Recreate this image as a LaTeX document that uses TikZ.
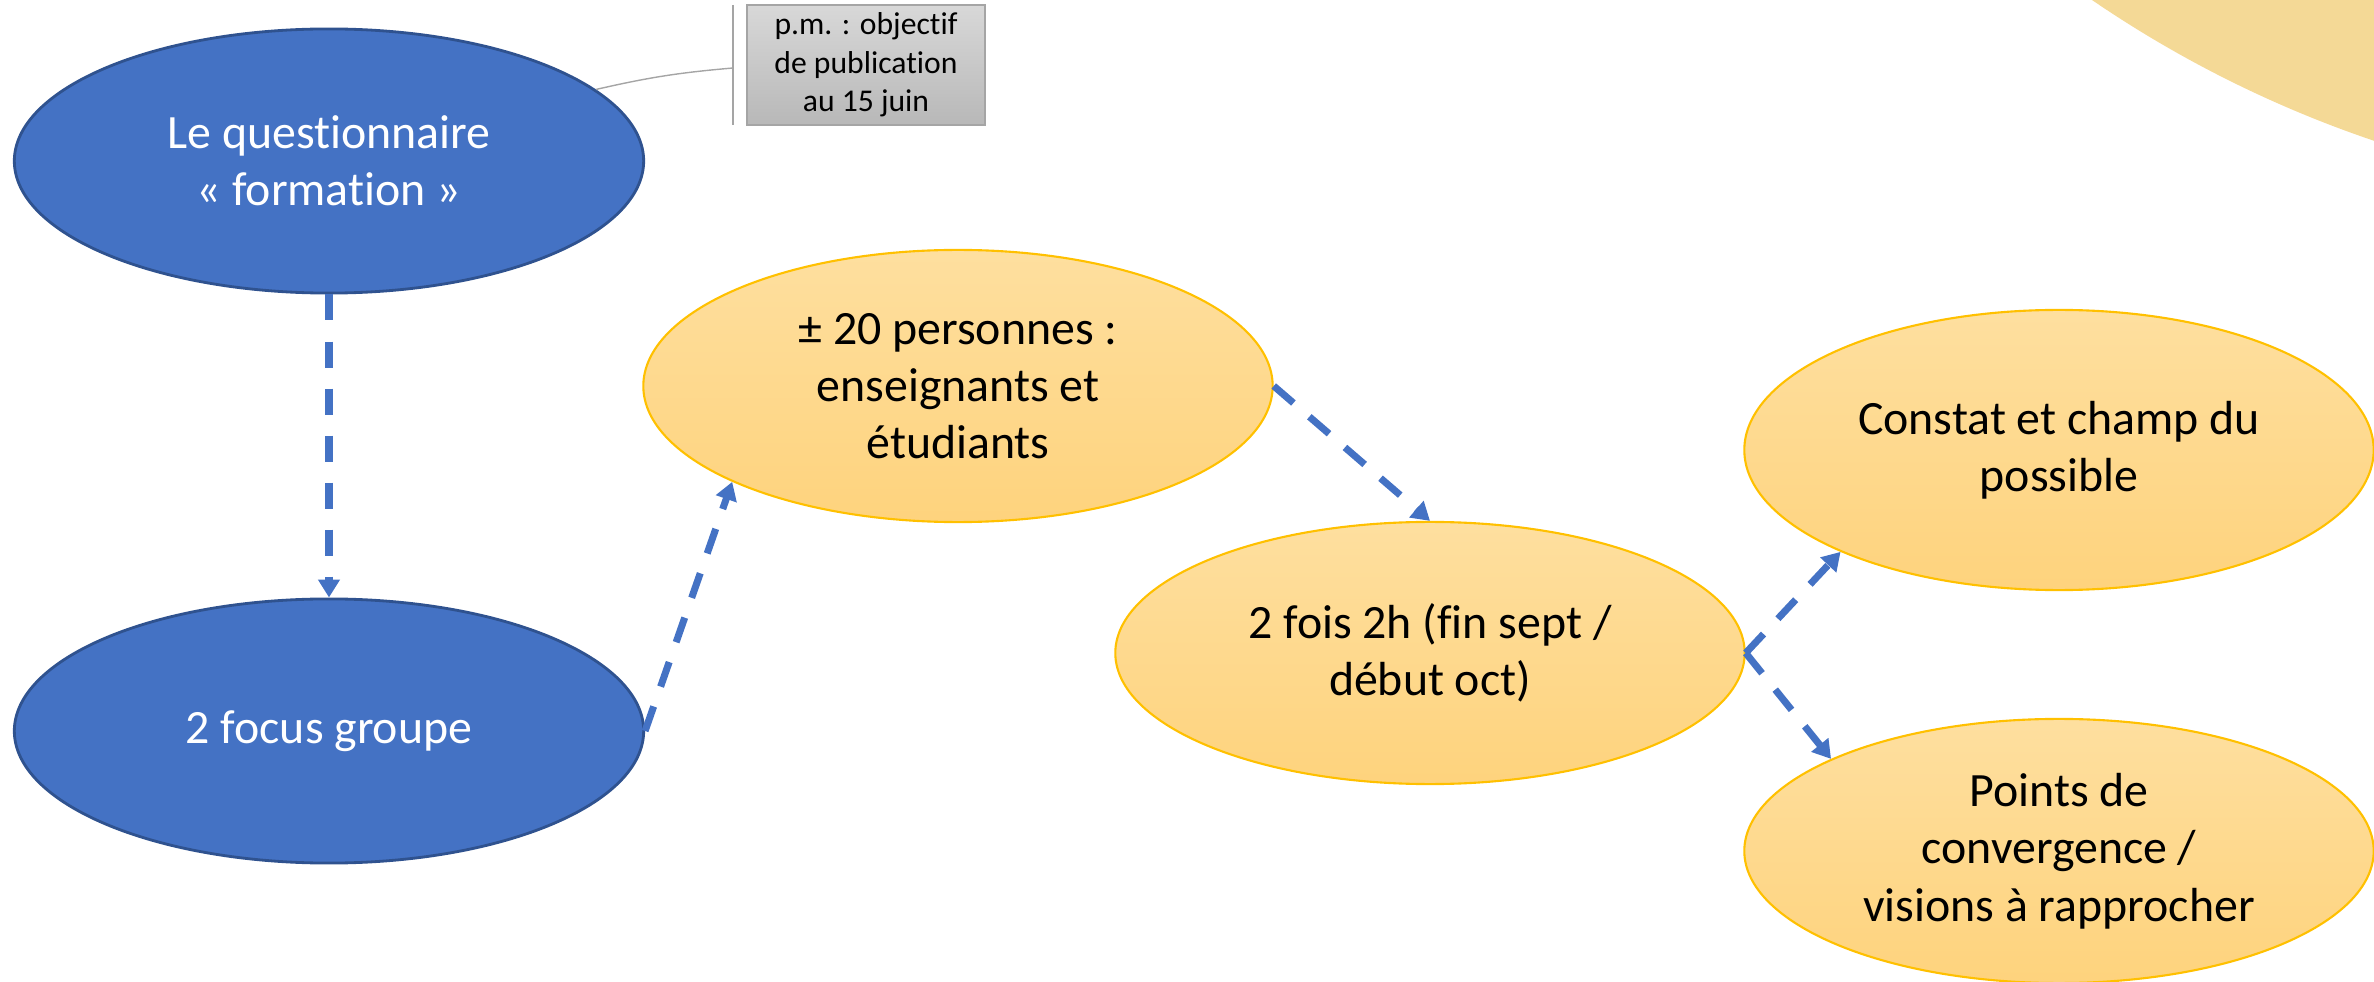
\documentclass[tikz,border=0pt]{standalone}
\usepackage{fontspec}
\setmainfont{Carlito}[Ligatures=NoCommon]
\usepackage{tikz}
\usetikzlibrary{shapes.geometric,arrows.meta}
\definecolor{bleu}{HTML}{4472C4}
\definecolor{bleuBord}{HTML}{2F528F}
\definecolor{orHaut}{HTML}{FEDF9F}
\definecolor{orBas}{HTML}{FED37D}
\definecolor{orBord}{HTML}{FFC000}
\definecolor{grisHaut}{HTML}{D8D8D8}
\definecolor{grisBas}{HTML}{B8B8B8}
\definecolor{grisBord}{HTML}{A5A5A5}
\definecolor{sable}{HTML}{F4D996}
\tikzstyle{bulle}=[ellipse, inner sep=-1cm, minimum width=6.29cm, minimum height=2.64cm, align=center, font=\fontsize{13.6}{16.3}\selectfont]
\tikzstyle{bulleBleue}=[bulle, fill=bleu, draw=bleuBord, line width=0.8pt, text=white]
\tikzstyle{bulleJaune}=[bulle, top color=orHaut, bottom color=orBas, draw=orBord, line width=0.6pt, text=black]
\tikzstyle{pmNote}=[rectangle, top color=grisHaut, bottom color=grisBas, draw=grisBord, line width=0.5pt, align=center, font=\fontsize{9}{10.9}\selectfont, minimum width=2.38cm, minimum height=1.2cm, inner sep=0]
\tikzstyle{fleche}=[draw=bleu, line width=0.07cm, dash pattern=on 0.26cm off 0.21cm, -{Triangle[width=0.21cm, length=0.18cm]}]
\tikzstyle{trait}=[draw=grisBord, line width=0.4pt]

\begin{document}
\begin{tikzpicture}[x=0.01cm, y=-0.01cm]
	\useasboundingbox (0,0) rectangle (2374,982);
	\begin{scope}
		\clip (0,0) rectangle (2374,982);
		\fill[sable] (2746,-959) circle[radius=11.6cm];
	\end{scope}
	\node[bulleBleue] (quest) at (329,161) {Le questionnaire\\« formation »};
	\node[bulleBleue] (focus) at (329,731) {2 focus groupe};
	\node[bulleJaune, minimum height=2.72cm] (pers) at (958,386) {± 20 personnes :\\enseignants et\\étudiants};
	\node[bulleJaune, minimum height=2.62cm] (fois) at (1430,653) {2 fois 2h (fin sept /\\début oct)};
	\node[bulleJaune, minimum height=2.8cm] (constat) at (2059,450) {Constat et champ du\\possible};
	\node[bulleJaune] (points) at (2059,851) {Points de\\convergence /\\visions à rapprocher};
	\coordinate (pmPied) at (733,68);
	\coordinate (pmHaut) at (733,5);
	\coordinate (pmBas) at (733,125);
	\node[pmNote] (pm) at (866,65) {p.m. : objectif\\de publication\\au 15 juin};
	\path[trait] (quest.15) to[bend left=4] (pmPied);
	\path[trait] (pmHaut) -- (pmBas);
	\path[fleche] (quest.south) -- (focus.north);
	\path[fleche] (focus.east) -- (pers.203);
	\path[fleche] (pers.east) -- (fois.north);
	\path[fleche] (fois.east) -- (constat.205);
	\path[fleche] (fois.east) -- (points.158);
\end{tikzpicture}
\end{document}
